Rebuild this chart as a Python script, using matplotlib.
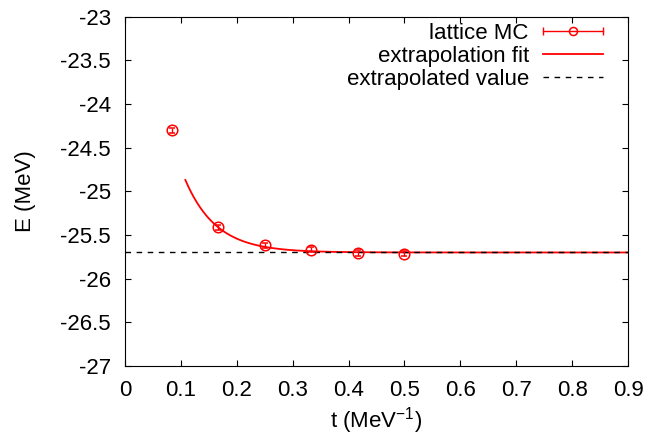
import numpy as np
import matplotlib
matplotlib.use('Agg')
import matplotlib.pyplot as plt
from matplotlib.lines import Line2D
from matplotlib.legend_handler import HandlerLine2D, HandlerTuple

plt.rcParams['font.family'] = ['Liberation Sans', 'DejaVu Sans']
plt.rcParams['font.size'] = 16
plt.rcParams['mathtext.fontset'] = 'custom'
plt.rcParams['mathtext.rm'] = 'Liberation Sans'

# lattice MC data
t_mc = [1/12, 2/12, 3/12, 4/12, 5/12, 6/12]
e_mc = [-24.30, -25.41, -25.62, -25.67, -25.705, -25.715]
e_err = [0.03, 0.03, 0.03, 0.03, 0.03, 0.03]

# extrapolation fit E(t) = E0 + A exp(-d t)
e_inf = -25.70
fit_amp = 5.8
fit_decay = 18.0
fit_tmin = 0.108

x_ticks = [0, 0.1, 0.2, 0.3, 0.4, 0.5, 0.6, 0.7, 0.8, 0.9]
y_ticks = [-27, -26.5, -26, -25.5, -25, -24.5, -24, -23.5, -23]

W, H = 661, 437


def main():
    fig = plt.figure(figsize=(W / 100, H / 100), dpi=100)
    # axes box: x 125..628 px, y 16.7..366 px
    ax = fig.add_axes([125 / W, 1 - 366 / H, 503 / W, 349.3 / H])

    t_fit = np.linspace(fit_tmin, 0.9, 300)
    e_fit = e_inf + fit_amp * np.exp(-fit_decay * t_fit)

    ax.plot(t_fit, e_fit, color='red', lw=1.3, zorder=2)
    # dashes drawn over the fit, like the gnuplot original
    ax.plot([0, 0.9], [e_inf, e_inf], color='black', lw=1.0,
            dashes=(4, 4), zorder=3)
    ax.errorbar(t_mc, e_mc, yerr=e_err, fmt='o', mfc='none', mec='red',
                ms=7.6, mew=1.1, ecolor='red', elinewidth=1.0,
                capsize=2.0, capthick=1.0, zorder=4)

    ax.set_xlim(0, 0.9)
    ax.set_ylim(-27, -23)
    ax.set_xticks(x_ticks)
    ax.set_xticklabels([f'{v:g}' for v in x_ticks])
    ax.set_yticks(y_ticks)
    ax.set_yticklabels([f'{v:g}' for v in y_ticks])
    ax.tick_params(direction='in', length=4.5, width=0.8, top=True,
                   right=True, pad=10, labelsize=16)
    for s in ax.spines.values():
        s.set_linewidth(0.8)

    fig.text(25 / W, 1 - 191.5 / H, 'E (MeV)', rotation=90,
             ha='center', va='center', fontsize=16)
    fig.text(376.5 / W, 1 - 428 / H, 't (MeV$^{-1}$)', ha='center',
             va='baseline', fontsize=16)

    # gnuplot style legend: text first, sample on the right
    mc_line = Line2D([], [], color='red', lw=1.0, marker='o', mfc='none',
                     mec='red', ms=5.8, mew=1.1)
    mc_caps = Line2D([], [], color='red', ls='none', marker='|', ms=5.5,
                     mew=1.0)
    fit_line = Line2D([], [], color='red', lw=1.3)
    ext_line = Line2D([], [], color='black', lw=1.0, dashes=(4, 4))
    ax.legend([(mc_line, mc_caps), fit_line, ext_line],
              ['lattice MC', 'extrapolation fit', 'extrapolated value'],
              handler_map={mc_caps: HandlerLine2D(numpoints=2, marker_pad=0),
                           tuple: HandlerTuple(ndivide=1)},
              loc='upper right', bbox_to_anchor=(603.3 / W, 1 - 22.7 / H),
              bbox_transform=fig.transFigure, frameon=False,
              markerfirst=False, handlelength=2.73, handletextpad=0.62,
              labelspacing=0.1, borderaxespad=0, borderpad=0,
              fontsize=16, numpoints=1)

    fig.savefig('out.png', dpi=100)


main()
